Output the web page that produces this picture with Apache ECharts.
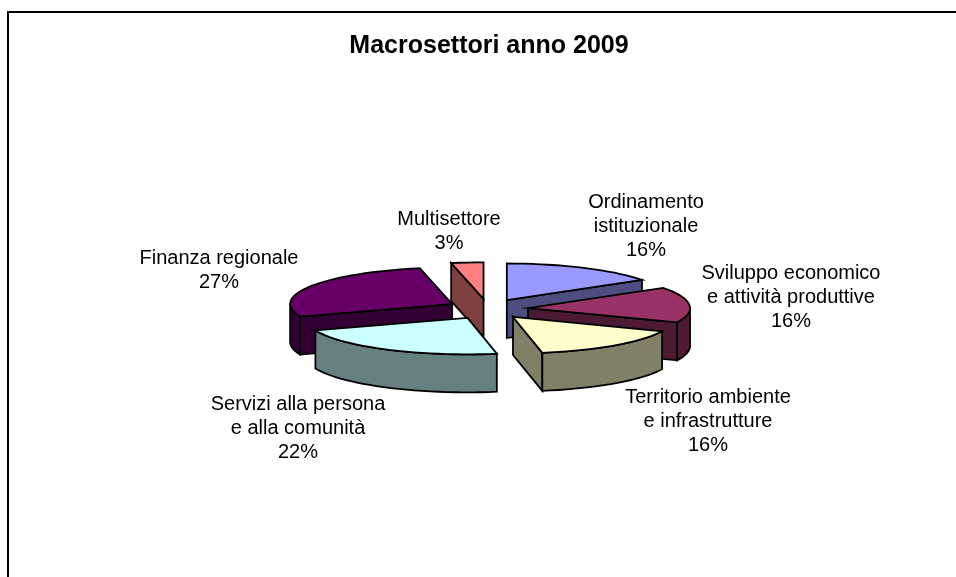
<!DOCTYPE html>
<html><head><meta charset="utf-8">
<style>html,body{margin:0;padding:0;background:#fff}#c{width:956px;height:577px}</style>
<script src="https://cdn.jsdelivr.net/npm/echarts@6/dist/echarts.min.js"></script>
</head><body><div id="c"></div>
<script>
const chartTitle = 'Macrosettori anno 2009';
const categories = ['Ordinamento\nistituzionale','Sviluppo economico\ne attività produttive','Territorio ambiente\ne infrastrutture','Servizi alla persona\ne alla comunità','Finanza regionale','Multisettore'];
const values = [15.7, 15.7, 15.7, 22.3, 27.4, 3.2];
const topColors = ['#9999FF','#993366','#FFFFCC','#CCFFFF','#660066','#FF8080'];
const sideColors = ['#4D4D80','#4D1A33','#808066','#668080','#330033','#804040'];
const labelCenters = [[646,226],[791,297],[708,421],[298,428],[219,270],[449,231]];
const paintRank = [0,3,4,5,2,1];
const view = {cx:487.6, cy:309, rx:162, ry:36.5, explodeX:40.6, explodeY:10.2, depth:38};

const total = values.reduce((a,b)=>a+b,0);
const rad = d => d*Math.PI/180;
function ring(ax,ay,d){return [ax+view.rx*Math.sin(rad(d)), ay-view.ry*Math.cos(rad(d))];}
function arcPts(ax,ay,a,b){const p=[];const n=Math.max(2,Math.ceil((b-a)/3));for(let i=0;i<=n;i++)p.push(ring(ax,ay,a+(b-a)*i/n));return p;}
function poly(points,fill,z2){return {type:'polygon',shape:{points},z2,style:{fill,stroke:'#000',lineWidth:1.8,lineJoin:'miter'}};}

function renderItem(params,api){
  const i=params.dataIndex, v=api.value(1);
  let before=0; for(let k=0;k<i;k++) before+=values[k];
  const a0=before/total*360, a1=(before+v)/total*360, mid=(a0+a1)/2;
  const ax=view.cx+view.explodeX*Math.sin(rad(mid));
  const ay=view.cy-view.explodeY*Math.cos(rad(mid));
  const d=view.depth, down=p=>[p[0],p[1]+d];
  const z=paintRank[i]*10;
  const ch=[];
  const face=deg=>{const e=ring(ax,ay,deg);ch.push(poly([[ax,ay],e,down(e),[ax,ay+d]],sideColors[i],z+ch.length));};
  if(Math.sin(rad(a0))<-1e-6) face(a0);
  if(Math.sin(rad(a1))>1e-6) face(a1);
  const s=Math.max(a0,90), e=Math.min(a1,270);
  if(e>s){const t=arcPts(ax,ay,s,e);ch.push(poly(t.concat(t.map(down).reverse()),sideColors[i],z+ch.length));}
  ch.push(poly([[ax,ay]].concat(arcPts(ax,ay,a0,a1)),topColors[i],z+ch.length));
  ch.push({type:'text',z2:100,style:{text:categories[i]+'\n'+Math.round(v)+'%',x:labelCenters[i][0],y:labelCenters[i][1],
    align:'center',verticalAlign:'middle',fill:'#000',font:'20px "Liberation Sans", Arial, sans-serif',lineHeight:24}});
  return {type:'group',children:ch};
}
const chart=echarts.init(document.getElementById('c'));
chart.setOption({
  animation:false,backgroundColor:'#fff',
  title:{text:chartTitle,left:484,top:29,textAlign:'center',textStyle:{fontFamily:'"Liberation Sans", Arial, sans-serif',fontWeight:'bold',fontSize:25,color:'#000'}},
  graphic:[{type:'rect',shape:{x:8,y:12,width:1100,height:800},style:{fill:'none',stroke:'#000',lineWidth:2}}],
  series:[{type:'custom',coordinateSystem:'none',silent:true,renderItem,data:values.map((v,i)=>[i,v])}]
});
</script></body></html>
